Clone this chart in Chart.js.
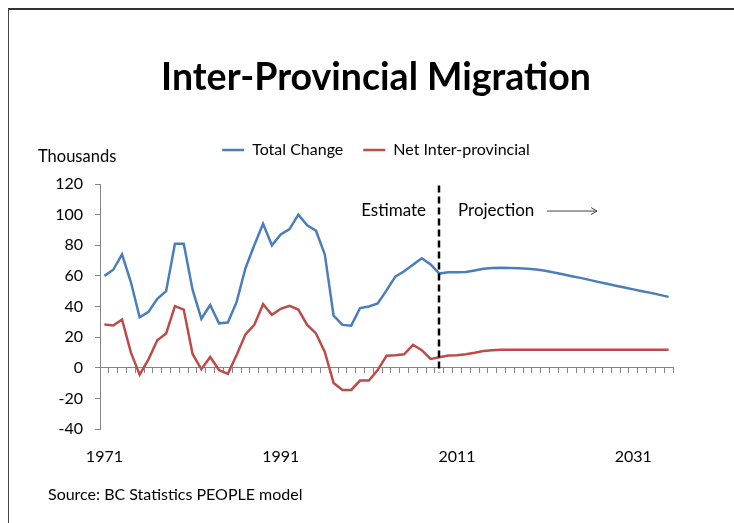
<!DOCTYPE html>
<html>
<head>
<meta charset="utf-8">
<script src="https://cdn.jsdelivr.net/npm/chart.js@4.4.0/dist/chart.umd.min.js"></script>
<style>
  html, body { margin:0; padding:0; background:#fff; }
  #wrap { position:relative; width:734px; height:523px; }
  #frame { position:absolute; left:8px; top:8px; right:0; bottom:0; border-top:2px solid #333; border-left:1px solid #444; pointer-events:none; }
  #src { position:absolute; left:48px; top:484px; font:16px Lato, sans-serif; color:#000; }
  #units { position:absolute; left:38px; top:146px; font:16.5px Lato, sans-serif; color:#000; }
</style>
</head>
<body>
<div id="wrap">
  <canvas id="chart" width="734" height="523"></canvas>
  <div id="frame"></div>
  <div id="units">Thousands</div>
  <div id="src">Source: BC Statistics PEOPLE model</div>
</div>
<script>
const years = [1971,1972,1973,1974,1975,1976,1977,1978,1979,1980,
  1981,1982,1983,1984,1985,1986,1987,1988,1989,1990,
  1991,1992,1993,1994,1995,1996,1997,1998,1999,2000,
  2001,2002,2003,2004,2005,2006,2007,2008,2009,2010,
  2011,2012,2013,2014,2015,2016,2017,2018,2019,2020,
  2021,2022,2023,2024,2025,2026,2027,2028,2029,2030,
  2031,2032,2033,2034,2035];

const totalChange = [60,64,74,56,33,36.5,45,50,81,81,
  51,32,41,29,29.5,43,65,80,94,80,
  87,90.5,100,93,89.5,74,34,28,27.5,39,
  40,42,50.5,59.5,63,67.3,71.5,67.5,61.5,62.3,
  62.3,62.5,63.5,64.6,65.2,65.3,65.2,65,64.7,64.2,
  63.3,62.2,61,59.8,58.7,57.4,56.1,54.8,53.6,52.4,
  51.2,50,48.9,47.6,46.3];

const netInterprovincial = [28.3,27.6,31.5,10,-4.5,5.5,18,22.4,40.2,38,
  9,-1,7,-1.5,-4,8.3,21.8,28,41.5,34.6,
  38.5,40.5,38,28,22.4,10.3,-10,-14.5,-14.5,-8.4,
  -8.4,-1.5,7.8,8.2,8.8,15,11.5,5.8,6.8,8,
  8.2,8.8,9.8,11,11.5,11.7,11.7,11.7,11.7,11.7,
  11.7,11.7,11.7,11.7,11.7,11.7,11.7,11.7,11.7,11.7,
  11.7,11.7,11.7,11.7,11.7];

const shownYears = [1971, 1991, 2011, 2031];
const yTicks = [-40, -20, 0, 20, 40, 60, 80, 100, 120];
const dividerYear = 2009;

const axisGray = '#868686';
const font = 'Lato, sans-serif';

// dashed estimate/projection divider with its labels
const dividerPlugin = {
  id: 'divider',
  afterDatasetsDraw(chart) {
    const ctx = chart.ctx;
    const xs = chart.scales.x, ys = chart.scales.y;
    const x = Math.round(xs.getPixelForValue(years.indexOf(dividerYear)));
    const top = ys.getPixelForValue(119);
    const bottom = ys.getPixelForValue(0) + 5;
    ctx.save();
    ctx.strokeStyle = '#000';
    ctx.lineWidth = 2.5;
    ctx.setLineDash([7, 4]);
    ctx.beginPath();
    ctx.moveTo(x, top);
    ctx.lineTo(x, bottom);
    ctx.stroke();
    ctx.setLineDash([]);

    const ty = ys.getPixelForValue(103);
    ctx.fillStyle = '#000';
    ctx.font = '17px ' + font;
    ctx.textBaseline = 'middle';
    ctx.textAlign = 'right';
    ctx.fillText('Estimate', x - 13, ty);
    ctx.textAlign = 'left';
    ctx.fillText('Projection', x + 19, ty);

    // arrow
    const ax1 = x + 108, ax2 = x + 158, ay = ty + 1;
    ctx.strokeStyle = '#444';
    ctx.lineWidth = 1;
    ctx.beginPath();
    ctx.moveTo(ax1, ay);
    ctx.lineTo(ax2, ay);
    ctx.moveTo(ax2 - 6, ay - 3.5);
    ctx.lineTo(ax2, ay);
    ctx.lineTo(ax2 - 6, ay + 3.5);
    ctx.stroke();
    ctx.restore();
  }
};

new Chart(document.getElementById('chart'), {
  type: 'line',
  data: {
    labels: years,
    datasets: [
      {label:'Total Change', data: totalChange, borderColor:'#4A7EBB', backgroundColor:'#4A7EBB',
       borderWidth:2.5, pointRadius:0, tension:0, xAxisID:'x', yAxisID:'y'},
      {label:'Net Inter-provincial', data: netInterprovincial, borderColor:'#BE4B48', backgroundColor:'#BE4B48',
       borderWidth:2.5, pointRadius:0, tension:0, xAxisID:'x', yAxisID:'y'}
    ]
  },
  options: {
    responsive:false,
    animation:false,
    layout:{padding:{left:48, right:30, top:0, bottom:54}},
    plugins:{
      title:{display:true, text:'Inter-Provincial Migration', color:'#000',
        font:{family:font, size:37.5, weight:'bold'}, padding:{top:55.5, bottom:21.5}},
      legend:{display:true, position:'top',
        labels:{color:'#000', font:{family:font, size:16}, usePointStyle:true, pointStyle:'line',
          pointStyleWidth:22, boxHeight:2, padding:20}},
      tooltip:{enabled:false}
    },
    scales:{
      x:{
        type:'category', offset:true, position:{y:0},
        grid:{display:true, offset:true, drawOnChartArea:false, drawTicks:true, tickLength:5, color:axisGray},
        border:{display:true, color:axisGray, width:1},
        ticks:{display:false}
      },
      x2:{
        type:'category', labels:years, offset:true, position:'bottom',
        grid:{display:false, drawTicks:false},
        border:{display:false},
        ticks:{autoSkip:false, maxRotation:0, padding:18, color:'#000', font:{family:font, size:16},
          callback:(v, i) => shownYears.includes(years[i]) ? String(years[i]) : ''},
        afterFit:s => { s.height = 40; }
      },
      // empty axes, only keep room around the plot
      gap:{
        type:'category', labels:years, position:'top',
        grid:{display:false, drawTicks:false},
        border:{display:false},
        ticks:{display:false},
        afterFit:s => { s.height = 16; }
      },
      gapRight:{
        type:'linear', position:'right',
        grid:{display:false, drawTicks:false},
        border:{display:false},
        ticks:{display:false},
        afterFit:s => { s.width = 31; }
      },
      y:{
        min:-40, max:120,
        afterBuildTicks:s => { s.ticks = yTicks.map(v => ({value:v})); },
        grid:{display:true, drawOnChartArea:false, drawTicks:true, tickLength:5, color:axisGray},
        border:{display:true, color:axisGray, width:1},
        ticks:{padding:12, color:'#000', font:{family:font, size:16}},
        afterFit:s => { s.width = 52; }
      }
    }
  },
  plugins:[dividerPlugin]
});
</script>
</body>
</html>
